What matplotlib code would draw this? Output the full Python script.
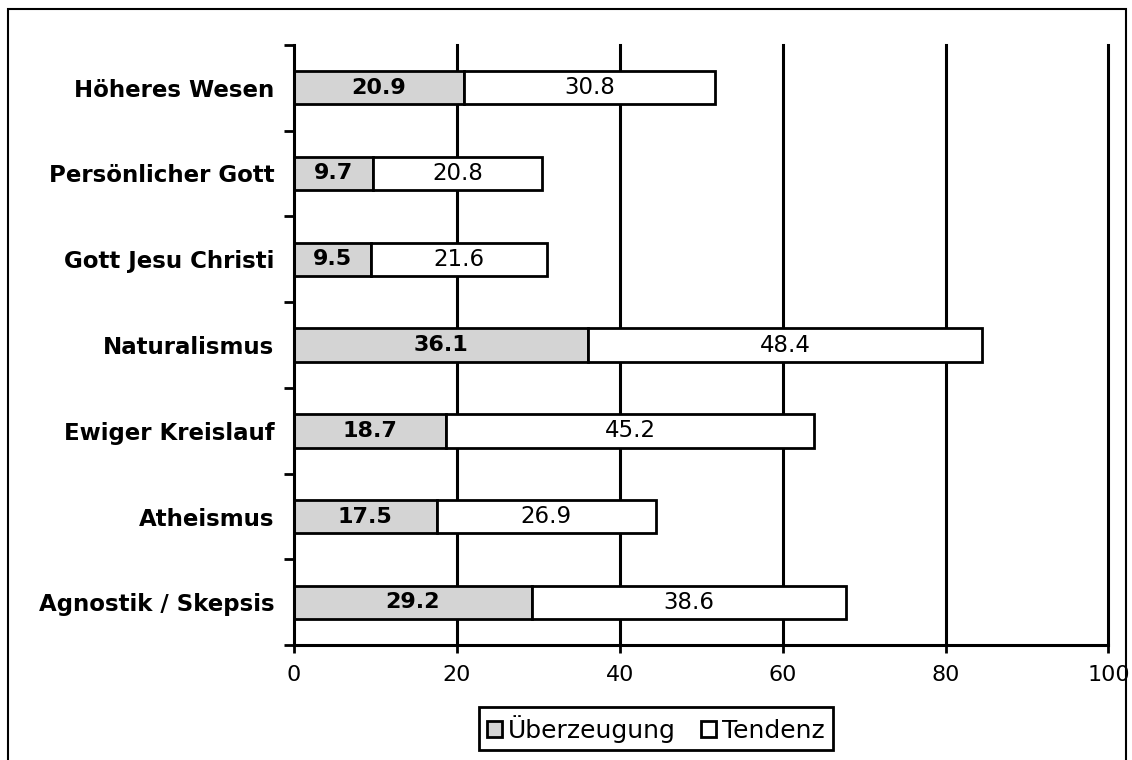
import matplotlib.pyplot as plt
import numpy as np
from matplotlib.patches import Rectangle

plt.rcParams['font.family'] = ['DejaVu Sans']

categories = ['Höheres Wesen', 'Persönlicher Gott', 'Gott Jesu Christi', 'Naturalismus',
              'Ewiger Kreislauf', 'Atheismus', 'Agnostik / Skepsis']
ueberzeugung = [20.9, 9.7, 9.5, 36.1, 18.7, 17.5, 29.2]
tendenz = [30.8, 20.8, 21.6, 48.4, 45.2, 26.9, 38.6]
xticks = [0, 20, 40, 60, 80, 100]

fig = plt.figure(figsize=(11.32, 7.6), dpi=100)
ax = fig.add_axes([0.2597, 0.151, 0.7195, 0.790])

y = np.arange(len(categories))
h = 0.39

# vertical gridlines behind bars
for xv in xticks[1:]:
    ax.axvline(xv, color='black', lw=2.2, zorder=0, clip_on=False)

ax.barh(y, ueberzeugung, height=h, color='#d4d4d4', edgecolor='black', lw=2, zorder=2,
        label='Überzeugung')
ax.barh(y, tendenz, left=ueberzeugung, height=h, color='white', edgecolor='black', lw=2,
        zorder=2, label='Tendenz')

for yi, a, b in zip(y, ueberzeugung, tendenz):
    ax.text(a / 2, yi, f'{a:.1f}', ha='center', va='center', fontsize=16,
            fontweight='bold', zorder=3)
    ax.text(a + b / 2, yi, f'{b:.1f}', ha='center', va='center', fontsize=16.5, zorder=3)

ax.set_xlim(0, 100)
ax.set_ylim(len(categories) - 0.5, -0.5)
ax.set_xticks(xticks)
ax.set_xticklabels([str(v) for v in xticks], fontsize=16)
ax.tick_params(axis='x', length=6, width=2, pad=8)

# y ticks at category boundaries, labels at centres
ax.set_yticks(y)
ax.set_yticklabels(categories, fontsize=16.5, fontweight='bold')
ax.tick_params(axis='y', length=0, pad=14)
ax.set_yticks(np.arange(-0.5, len(categories)), minor=True)
ax.tick_params(axis='y', which='minor', length=7, width=2)

for s in ['top', 'right']:
    ax.spines[s].set_visible(False)
for s in ['left', 'bottom']:
    ax.spines[s].set_linewidth(2.2)

leg = fig.legend(loc='center', bbox_to_anchor=(0.5795, 0.041), ncol=2, fontsize=18,
                 frameon=True, fancybox=False, edgecolor='black', framealpha=1,
                 handlelength=0.6, handleheight=0.6, handletextpad=0.25,
                 columnspacing=1.0, borderpad=0.3)
leg.get_frame().set_linewidth(2)

# page frame
fig.patches.append(Rectangle((0.007, -0.01), 0.988, 0.998, transform=fig.transFigure,
                             fill=False, edgecolor='black', lw=1.5))

fig.savefig('out.png', dpi=100)
